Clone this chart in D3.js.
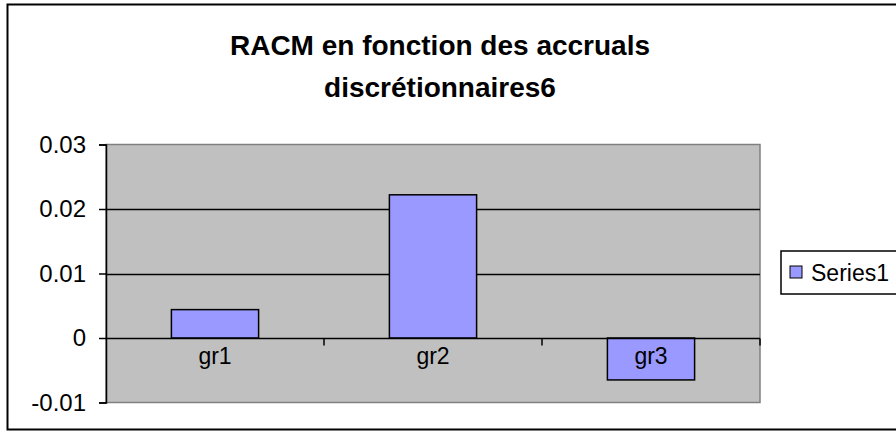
<!DOCTYPE html>
<html><head><meta charset="utf-8">
<script src="https://cdn.jsdelivr.net/npm/d3@7"></script>
<style>html,body{margin:0;padding:0;background:#fff;overflow:hidden}</style>
</head><body>
<svg id="c" width="896" height="431"></svg>
<script>
const categories = ["gr1", "gr2", "gr3"];
const seriesName = "Series1";
const values = [0.0044, 0.0222, -0.0065];
const yTicks = [-0.01, 0, 0.01, 0.02, 0.03];
const yTickLabels = ["-0.01", "0", "0.01", "0.02", "0.03"];
const titleLines = ["RACM en fonction des accruals", "discrétionnaires6"];

const svg = d3.select("#c");
const font = "'Liberation Sans', Arial, sans-serif";
const plot = {x0: 106, x1: 760, y0: 144.5, y1: 402.5};

// outer chart border
svg.append("rect").attr("x", 7.5).attr("y", 4.5).attr("width", 900).attr("height", 425)
  .attr("fill", "#fff").attr("stroke", "#000").attr("stroke-width", 2);

const x = d3.scaleBand().domain(categories).range([plot.x0, plot.x1]).paddingInner(0.6).paddingOuter(0.3);
const xb = d3.scaleBand().domain(categories).range([plot.x0, plot.x1]);
const y = d3.scaleLinear().domain([-0.01, 0.03]).range([plot.y1, plot.y0]);

// plot area
svg.append("rect").attr("x", plot.x0).attr("y", plot.y0).attr("width", plot.x1 - plot.x0).attr("height", plot.y1 - plot.y0)
  .attr("fill", "#c0c0c0").attr("stroke", "#808080").attr("stroke-width", 1.5);

// gridlines
svg.append("g").selectAll("line").data(yTicks.filter(v => v > 0 && v < 0.03)).join("line")
  .attr("x1", plot.x0).attr("x2", plot.x1)
  .attr("y1", d => Math.round(y(d)) + 0.5).attr("y2", d => Math.round(y(d)) + 0.5)
  .attr("stroke", "#000").attr("stroke-width", 1.5);

// bars
svg.append("g").selectAll("rect").data(values).join("rect")
  .attr("x", (d, i) => x(categories[i]))
  .attr("width", x.bandwidth())
  .attr("y", d => y(Math.max(0, d)))
  .attr("height", d => Math.abs(y(d) - y(0)))
  .attr("fill", "#9999ff").attr("stroke", "#000").attr("stroke-width", 1.5);

// x axis at zero
const y0 = Math.round(y(0)) + 0.5;
svg.append("line").attr("x1", plot.x0).attr("x2", plot.x1).attr("y1", y0).attr("y2", y0)
  .attr("stroke", "#000").attr("stroke-width", 1.5);
svg.append("g").selectAll("line").data(categories).join("line")
  .attr("x1", d => xb(d) + xb.bandwidth()).attr("x2", d => xb(d) + xb.bandwidth())
  .attr("y1", y0).attr("y2", y0 + 7).attr("stroke", "#000").attr("stroke-width", 1.5);
svg.append("g").selectAll("text").data(categories).join("text")
  .attr("x", d => xb(d) + xb.bandwidth() / 2).attr("y", y0 + 25)
  .attr("text-anchor", "middle").attr("font-family", font).attr("font-size", 23)
  .text(d => d);

// y axis
const yAxis = d3.axisLeft(y).tickValues(yTicks).tickSize(7).tickPadding(13)
  .tickFormat((d, i) => yTickLabels[i]);
const ga = svg.append("g").attr("transform", `translate(${plot.x0},0)`).call(yAxis);
ga.select(".domain").attr("stroke", "#000").attr("stroke-width", 1.5);
ga.selectAll(".tick line").attr("stroke", "#000").attr("stroke-width", 1.5);
ga.selectAll(".tick text").attr("font-family", font).attr("font-size", 24).attr("fill", "#000");

// title
svg.append("g").selectAll("text").data(titleLines).join("text")
  .attr("x", 440).attr("y", (d, i) => 55 + i * 42)
  .attr("text-anchor", "middle").attr("font-family", font).attr("font-weight", "bold")
  .attr("font-size", 28).text(d => d);

// legend
const lg = svg.append("g");
lg.append("rect").attr("x", 781).attr("y", 251).attr("width", 130).attr("height", 43)
  .attr("fill", "#fff").attr("stroke", "#000").attr("stroke-width", 1.5);
lg.append("rect").attr("x", 790).attr("y", 266).attr("width", 12).attr("height", 12)
  .attr("fill", "#9999ff").attr("stroke", "#000").attr("stroke-width", 1);
lg.append("text").attr("x", 811).attr("y", 281).attr("font-family", font).attr("font-size", 23)
  .text(seriesName);
</script>
</body></html>
